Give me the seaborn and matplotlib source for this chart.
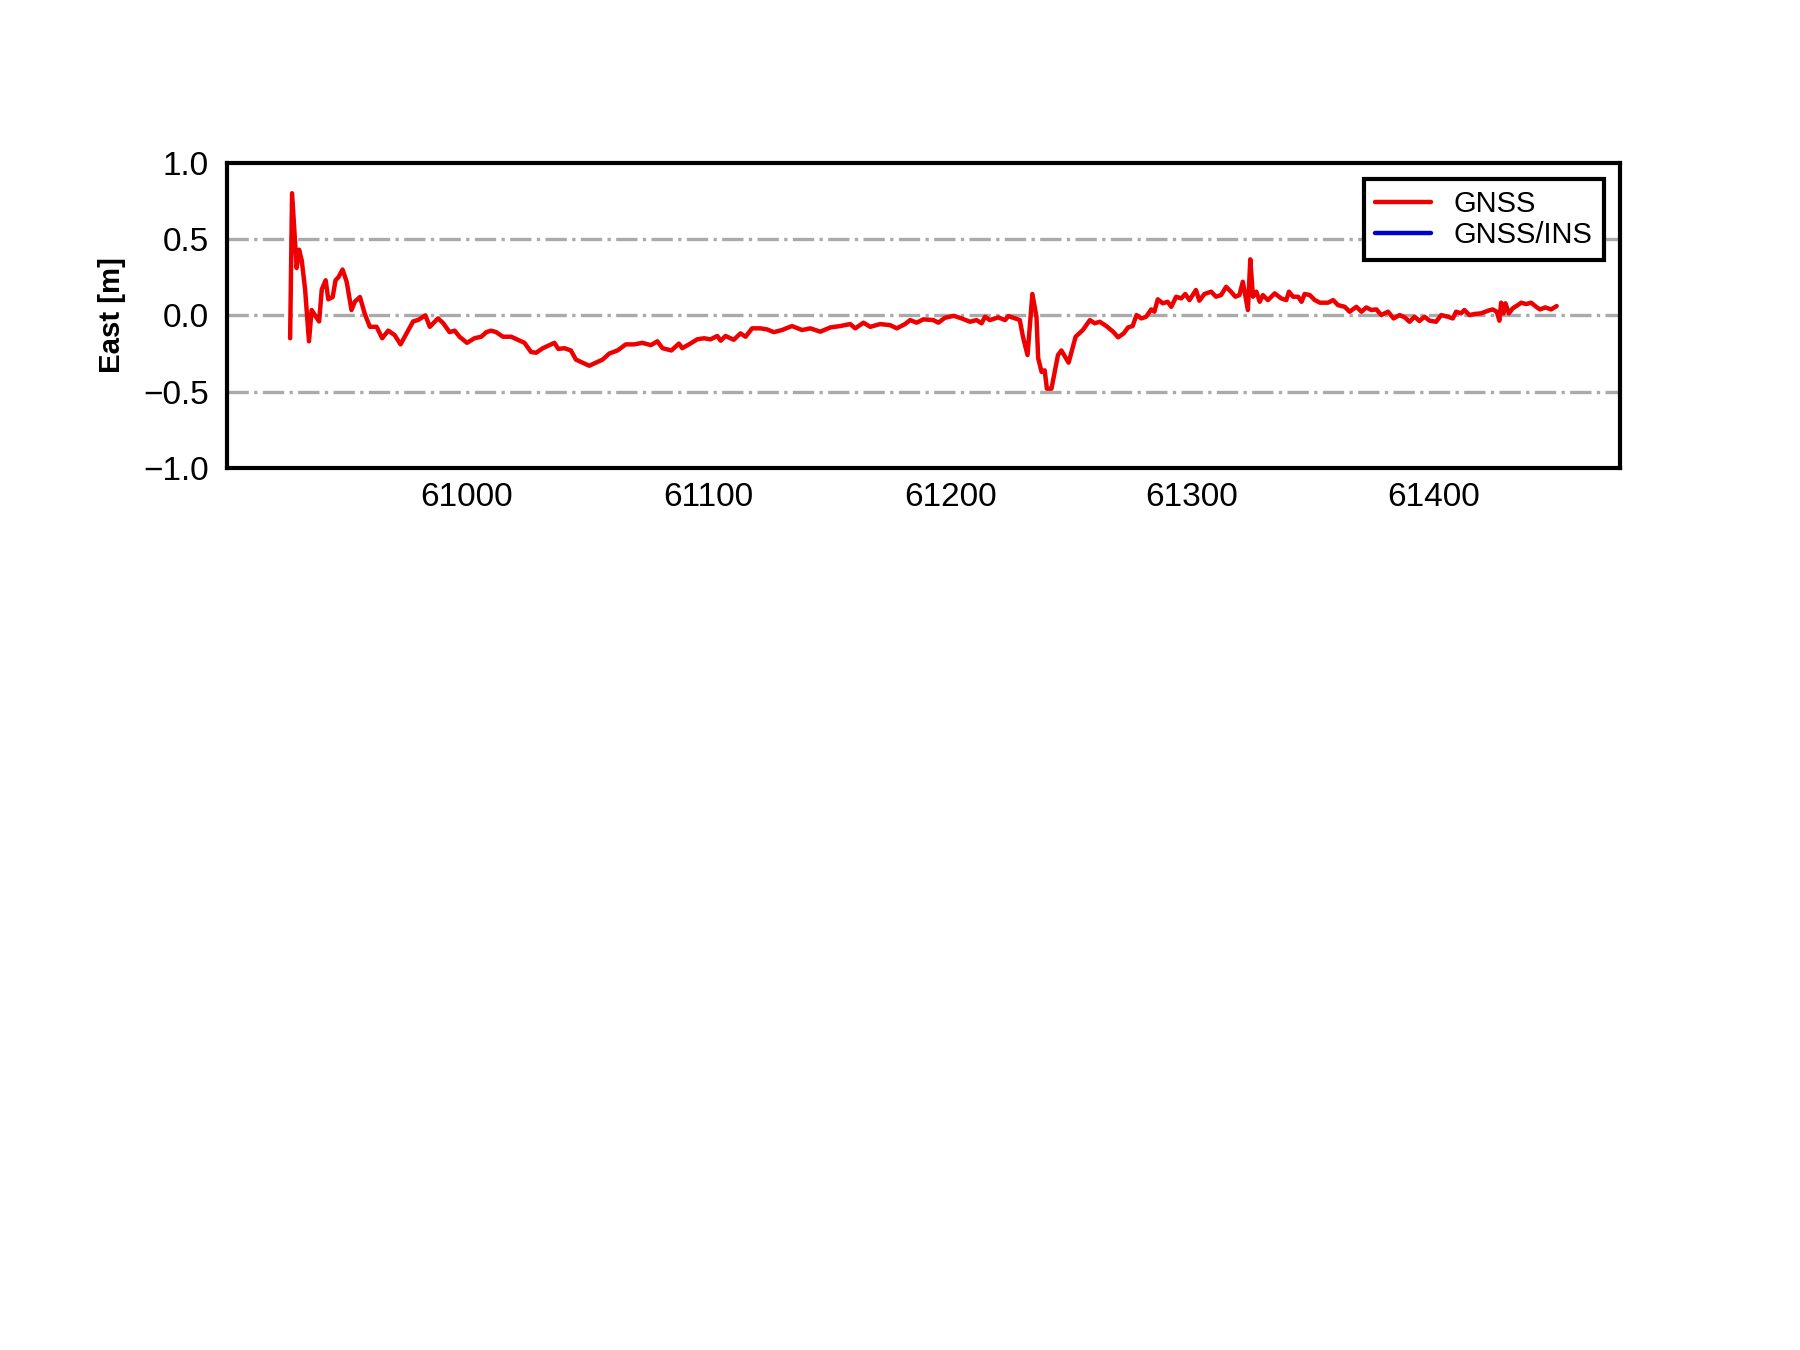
"""
GNSS 东向误差时序图：按参考图重绘，输出 out.png。
"""

import matplotlib

matplotlib.use("Agg")
import matplotlib.pyplot as plt
import pandas as pd
import seaborn as sns


OUTPUT_PATH = "out.png"

# GPS 周内秒
gnss_time = [
    60926.8, 60927.6, 60929.5, 60930.5, 60931.6, 60933.0, 60934.6, 60935.7, 60937.1, 60938.8,
    60939.9, 60941.5, 60942.6, 60944.4, 60945.6, 60946.8, 60948.5, 60950.2, 60952.2, 60953.6,
    60955.7, 60957.7, 60959.8, 60962.6, 60964.9, 60967.4, 60970.1, 60972.5, 60975.6, 60977.7,
    60979.8, 60982.8, 60984.6, 60988.0, 60990.1, 60992.8, 60994.9, 60996.9, 61000.0, 61003.1,
    61005.9, 61008.0, 61010.0, 61012.1, 61014.9, 61018.3, 61021.1, 61023.8, 61026.5, 61028.6,
    61031.4, 61034.1, 61036.2, 61037.8, 61040.3, 61043.0, 61045.1, 61047.9, 61050.6, 61053.4,
    61056.1, 61058.9, 61062.3, 61065.7, 61069.2, 61072.6, 61076.1, 61078.8,
    61080.9, 61084.6, 61087.7, 61089.1, 61091.9, 61095.3, 61098.1, 61100.8, 61103.6, 61105.0,
    61107.0, 61110.4, 61113.2, 61115.3, 61118.0, 61121.5, 61124.2, 61127.0, 61130.4, 61134.5,
    61138.7, 61142.1, 61146.2, 61150.4, 61154.5, 61158.6, 61160.7, 61164.1, 61166.9, 61171.0,
    61175.1, 61177.9, 61181.3, 61183.4, 61186.1, 61188.9, 61193.0, 61195.1, 61197.8, 61201.5,
    61204.7, 61208.2, 61210.9, 61213.0, 61214.4, 61216.4, 61219.9, 61222.7, 61224.1, 61226.9,
    61228.8, 61230.1, 61232.0, 61234.0, 61235.7, 61236.4, 61237.8, 61239.1, 61240.0, 61241.9,
    61244.6, 61246.0, 61249.0, 61251.9, 61254.9, 61257.8, 61259.8, 61261.9, 61264.6, 61267.4,
    61269.5, 61271.8, 61273.6, 61275.5, 61277.1, 61279.1, 61281.1, 61283.2, 61284.5, 61285.9,
    61288.0, 61290.0, 61291.5, 61293.5, 61295.6, 61297.3, 61299.0, 61301.7, 61303.1, 61305.2,
    61308.0, 61310.0, 61312.1, 61314.2, 61316.2, 61318.0, 61319.7, 61321.1, 61322.2, 61323.2,
    61324.2, 61325.3, 61326.7, 61328.1, 61329.4, 61331.5, 61334.3, 61337.0, 61339.1, 61340.2,
    61341.9, 61344.0, 61345.4, 61346.7, 61348.8, 61350.9, 61353.0, 61356.4, 61358.5, 61360.5,
    61363.3, 61365.3, 61368.1, 61370.2, 61372.2, 61374.3, 61376.4, 61378.4, 61381.2, 61383.5,
    61386.0, 61388.1, 61390.1, 61392.2, 61394.2, 61396.3, 61398.4, 61401.1, 61403.2, 61405.9,
    61408.0, 61409.4, 61411.4, 61412.8, 61414.9, 61417.0, 61419.7, 61422.5, 61424.5, 61426.2,
    61427.3, 61428.0, 61429.0, 61429.8, 61431.2, 61432.8, 61434.9, 61436.3, 61438.4, 61440.4,
    61442.5, 61444.1, 61446.3, 61448.7, 61451.0,
]

# 东向误差 [m]
gnss_east = [
    -0.15, 0.80, 0.31, 0.43, 0.36, 0.17, -0.17, 0.035, 0.00, -0.04,
    0.17, 0.23, 0.105, 0.12, 0.23, 0.25, 0.30, 0.22, 0.035, 0.09,
    0.12, 0.01, -0.075, -0.075, -0.15, -0.10, -0.13, -0.19, -0.10, -0.04,
    -0.03, 0.00, -0.075, -0.02, -0.05, -0.11, -0.10, -0.14, -0.18, -0.15,
    -0.14, -0.11, -0.10, -0.11, -0.14, -0.14, -0.16, -0.18, -0.24, -0.245,
    -0.215, -0.195, -0.18, -0.22, -0.215, -0.23, -0.29, -0.31, -0.33, -0.31,
    -0.29, -0.25, -0.23, -0.19, -0.19, -0.18, -0.195, -0.17,
    -0.215, -0.23, -0.185, -0.215, -0.19, -0.157, -0.15, -0.157, -0.135, -0.166,
    -0.135, -0.16, -0.118, -0.14, -0.085, -0.085, -0.092, -0.11, -0.096, -0.07,
    -0.096, -0.085, -0.107, -0.079, -0.07, -0.057, -0.085, -0.048, -0.075, -0.057,
    -0.064, -0.085, -0.057, -0.031, -0.048, -0.026, -0.031, -0.048, -0.016, -0.003,
    -0.02, -0.042, -0.031, -0.052, -0.009, -0.031, -0.013, -0.031, -0.005, -0.02,
    -0.031, -0.14, -0.26, 0.14, -0.01, -0.28, -0.37, -0.36, -0.48, -0.48,
    -0.26, -0.23, -0.31, -0.14, -0.096, -0.031, -0.052, -0.042, -0.07, -0.107,
    -0.144, -0.118, -0.079, -0.07, 0.002, -0.02, -0.009, 0.039, 0.024, 0.105,
    0.079, 0.089, 0.056, 0.122, 0.111, 0.14, 0.10, 0.166, 0.096, 0.14,
    0.155, 0.122, 0.133, 0.187, 0.155, 0.122, 0.133, 0.22, 0.122, 0.035,
    0.367, 0.122, 0.155, 0.089, 0.133, 0.10, 0.144, 0.111, 0.10, 0.155,
    0.122, 0.122, 0.089, 0.14, 0.133, 0.10, 0.083, 0.083, 0.10, 0.067,
    0.056, 0.024, 0.056, 0.024, 0.052, 0.035, 0.039, 0.002, 0.024, -0.02,
    0.002, -0.013, -0.042, -0.009, -0.037, -0.009, -0.035, -0.042, 0.002, -0.009,
    -0.02, 0.024, 0.013, 0.035, 0.002, 0.009, 0.013, 0.03, 0.039, 0.024,
    -0.035, 0.083, 0.013, 0.079, 0.013, 0.046, 0.067, 0.083, 0.074, 0.083,
    0.056, 0.039, 0.052, 0.039, 0.061,
]

# 组合导航结果在该图中没有画出数据，只出现在图例里
ins_time = []
ins_east = []

y_ticks = [-1.0, -0.5, 0.0, 0.5, 1.0]
x_ticks = [61000, 61100, 61200, 61300, 61400]
grid_levels = [-0.5, 0.0, 0.5]


def set_style() -> None:
    """白底、内向刻度、Arial 风格字体，文字统一为黑色。"""
    sns.set_theme(style="white")
    plt.rcParams["font.family"] = ["Liberation Sans", "DejaVu Sans"]
    plt.rcParams["font.size"] = 10
    plt.rcParams["text.color"] = "black"
    plt.rcParams["axes.labelcolor"] = "black"
    plt.rcParams["xtick.color"] = "black"
    plt.rcParams["ytick.color"] = "black"
    plt.rcParams["axes.linewidth"] = 1.5
    plt.rcParams["axes.edgecolor"] = "black"
    plt.rcParams["xtick.direction"] = "in"
    plt.rcParams["ytick.direction"] = "in"


def main() -> None:
    set_style()

    df = pd.DataFrame({"time": gnss_time, "east": gnss_east})

    fig = plt.figure(figsize=(9, 6.75), dpi=200)
    ax = fig.add_axes([0.126, 0.6533, 0.774, 0.2262])

    for level in grid_levels:
        ax.axhline(level, color="#aaaaaa", linestyle="-.", linewidth=1.2, zorder=0)

    sns.lineplot(
        data=df, x="time", y="east", ax=ax, color="#ee0000", linewidth=1.6,
        label="GNSS", sort=False, estimator=None,
    )
    ax.plot(ins_time, ins_east, color="#0000cc", linewidth=1.6, label="GNSS/INS")

    ax.set_ylim(-1.0, 1.0)
    ax.set_yticks(y_ticks)
    ax.set_xticks(x_ticks)
    ax.set_xticklabels([str(t) for t in x_ticks])
    ax.tick_params(axis="both", which="major", length=4.5, width=1.5,
                   labelsize=12, colors="black")
    ax.tick_params(axis="y", pad=6.5)
    ax.tick_params(axis="x", pad=5)

    ax.set_xlabel("")
    ax.set_ylabel("East [m]", fontsize=10.6, fontweight="bold", color="black",
                  labelpad=6)

    legend = ax.legend(
        loc="upper right", fontsize=10.5, frameon=True, fancybox=False,
        edgecolor="black", framealpha=1.0, borderaxespad=0.55,
        handlelength=1.9, handletextpad=0.8, labelspacing=0.12,
        borderpad=0.38,
    )
    legend.get_frame().set_linewidth(1.5)
    for text in legend.get_texts():
        text.set_color("black")

    fig.savefig(OUTPUT_PATH, dpi=200, facecolor="white")
    plt.close(fig)


if __name__ == "__main__":
    main()
